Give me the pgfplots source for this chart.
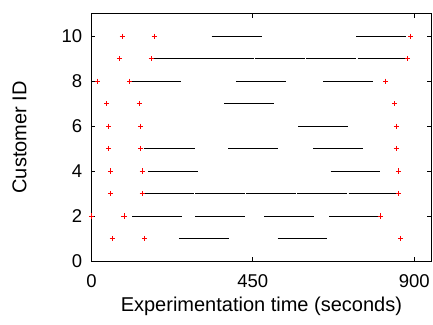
\documentclass[border=0pt]{standalone}
\usepackage{pgfplots}
\pgfplotsset{compat=1.18}
\usepackage{fontspec}
\setmainfont{Liberation Sans}
\begin{document}
\fontsize{18.5bp}{22bp}\selectfont
\begin{tikzpicture}
\begin{axis}[
  scale only axis,
  width=340bp, height=247.3bp,
  xmin=0, xmax=948, ymin=0, ymax=11,
  xtick={0,450,900}, ytick={0,2,4,6,8,10},
  tick align=inside,
  major tick length=4bp,
  axis line style={line width=0.9bp},
  every tick/.style={black, line width=0.8bp},
  /pgf/number format/assume math mode=true,
  /pgf/number format/1000 sep={},
  xticklabel style={anchor=center, yshift=-20.5bp},
  yticklabel style={anchor=east, inner sep=0pt, xshift=-9bp},
  xlabel={Experimentation time (seconds)},
  ylabel={Customer ID},
  label style={font=\fontsize{20bp}{24bp}\selectfont},
  xlabel style={at={([yshift=-45bp]axis description cs:0.5,0)}, anchor=center},
  ylabel style={at={([xshift=-72bp]axis description cs:0,0.5)}, anchor=center},
  clip=false,
  unbounded coords=jump,
  set layers,
]
\addplot[black, line width=0.8bp] table[x=x, y=y] {
x y
335 10
475 10
nan nan
738 10
877 10
nan nan
167 9
310 9
nan nan
312 9
452 9
nan nan
456 9
596 9
nan nan
598 9
738 9
nan nan
742 9
881 9
nan nan
107 8
251 8
nan nan
403 8
543 8
nan nan
647 8
786 8
nan nan
370 7
510 7
nan nan
577 6
715 6
nan nan
148 5
288 5
nan nan
382 5
520 5
nan nan
619 5
758 5
nan nan
159 4
298 4
nan nan
667 4
806 4
nan nan
142 3
286 3
nan nan
289 3
428 3
nan nan
431 3
570 3
nan nan
573 3
712 3
nan nan
717 3
856 3
nan nan
114 2
253 2
nan nan
289 2
428 2
nan nan
482 2
622 2
nan nan
663 2
805 2
nan nan
244 1
384 1
nan nan
519 1
658 1
};
\addplot[only marks, mark=+, red, mark size=2.6bp, line width=1bp, on layer=axis foreground] table[x=x, y=y] {
x y
86 10
175 10
890 10
78 9
167 9
881 9
18 8
107 8
821 8
43 7
133 7
846 7
48 6
137 6
850 6
48 5
137 5
850 5
53 4
142 4
856 4
53 3
142 3
856 3
0 2
91 2
805 2
58 1
149 1
862 1
};
\end{axis}
\pgfresetboundingbox
\path (-91.4bp,-64bp) rectangle (341.6bp,261bp);
\end{tikzpicture}
\end{document}
